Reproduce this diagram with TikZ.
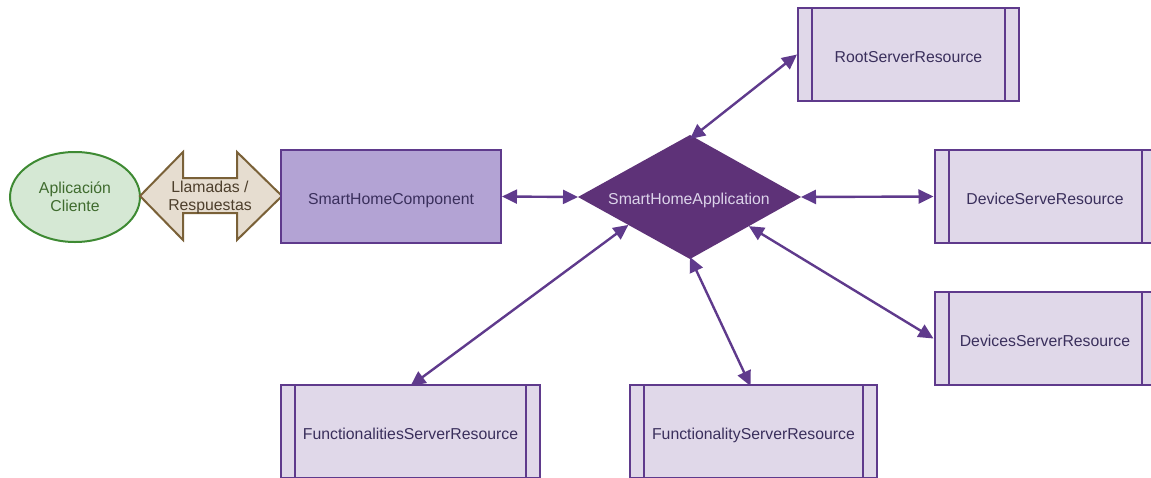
\documentclass[tikz,border=0pt]{standalone}
\usepackage{fontspec}
\setmainfont{Liberation Sans}
\usetikzlibrary{arrows.meta,calc,shapes.geometric}
\definecolor{pborder}{HTML}{5F3A8C}
\definecolor{pfill}{HTML}{E0D8E9}
\definecolor{cfill}{HTML}{B3A3D4}
\definecolor{dfill}{HTML}{5E3278}
\definecolor{dtext}{HTML}{DCD4EA}
\definecolor{btext}{HTML}{3A2F5C}
\definecolor{efill}{HTML}{D5E8D4}
\definecolor{eborder}{HTML}{3E8A33}
\definecolor{etext}{HTML}{3F6B2E}
\definecolor{afill}{HTML}{E6DDD0}
\definecolor{aborder}{HTML}{7A6138}
\definecolor{atext}{HTML}{4D3F2C}
\begin{document}
\begin{tikzpicture}[x=1pt,y=-1pt,
  lbl/.style={font=\fontsize{15.8}{18}\selectfont},
  lowtext/.style={text height=15pt, text depth=0pt},
  procbox/.style={draw=pborder, fill=pfill, line width=2pt, lbl, lowtext, text=btext,
    minimum height=93pt, inner sep=0pt,
    path picture={
      \draw[pborder,line width=2pt]
        ([xshift=14pt]path picture bounding box.north west) -- ([xshift=14pt]path picture bounding box.south west)
        ([xshift=-14pt]path picture bounding box.north east) -- ([xshift=-14pt]path picture bounding box.south east);}},
  conn/.style={pborder, line width=2.4pt, {Triangle[length=15pt,width=14pt]}-{Triangle[length=15pt,width=14pt]}}
]
\useasboundingbox (0,0) rectangle (1151,477);

% client ellipse
\node[ellipse, draw=eborder, fill=efill, line width=2pt, minimum width=130pt, minimum height=90pt,
      lbl, text=etext, align=center, inner sep=0pt] (cli) at (75,197) {Aplicación\\Cliente};

% double arrow
\filldraw[draw=aborder, fill=afill, line width=2pt, line join=miter]
  (140,196) -- (183,152) -- (183,178) -- (237,178) -- (237,152) -- (282,196)
  -- (237,240) -- (237,213) -- (183,213) -- (183,240) -- cycle;
\node[lbl, text=atext, align=center, inner sep=0pt] (calls) at (210,197) {Llamadas /\\Respuestas};

% component
\node[draw=pborder, fill=cfill, line width=2pt, minimum width=220pt, minimum height=93pt,
      lbl, lowtext, text=btext, inner sep=0pt] (shc) at (391,196.5) {SmartHomeComponent};

% application diamond
\coordinate (aW) at (578,197);
\coordinate (aN) at (690,135);
\coordinate (aE) at (801,197);
\coordinate (aS) at (690,259);
\fill[dfill] (aW) -- (aN) -- (aE) -- (aS) -- cycle;
\node[lbl, lowtext, text=dtext, inner sep=0pt] (app) at (689,196.5) {SmartHomeApplication};

% resources
\node[procbox, minimum width=221pt] (root) at (908.5,54.5) {RootServerResource};
\node[procbox, minimum width=221pt] (dev) at (1045,196.5) {DeviceServeResource};
\node[procbox, minimum width=221pt] (devs) at (1045,338.5) {DevicesServerResource};
\node[procbox, minimum width=259pt] (funcs) at (410.5,431.5) {FunctionalitiesServerResource};
\node[procbox, minimum width=247pt] (func) at (753.5,431.5) {FunctionalityServerResource};

% connectors
\draw[conn] (shc.east) -- (aW);
\draw[conn] (aE) -- (dev.west);
\draw[conn] ([yshift=-4pt]aN) -- (root.west);
\draw[conn] ($(aE)!0.47!(aS)$) -- (devs.west);
\draw[conn] ($(aW)!0.45!(aS)$) -- ([yshift=-2pt]funcs.north);
\draw[conn] ([yshift=2pt]aS) -- ([yshift=-2pt,xshift=-3pt]func.north);
\end{tikzpicture}
\end{document}
